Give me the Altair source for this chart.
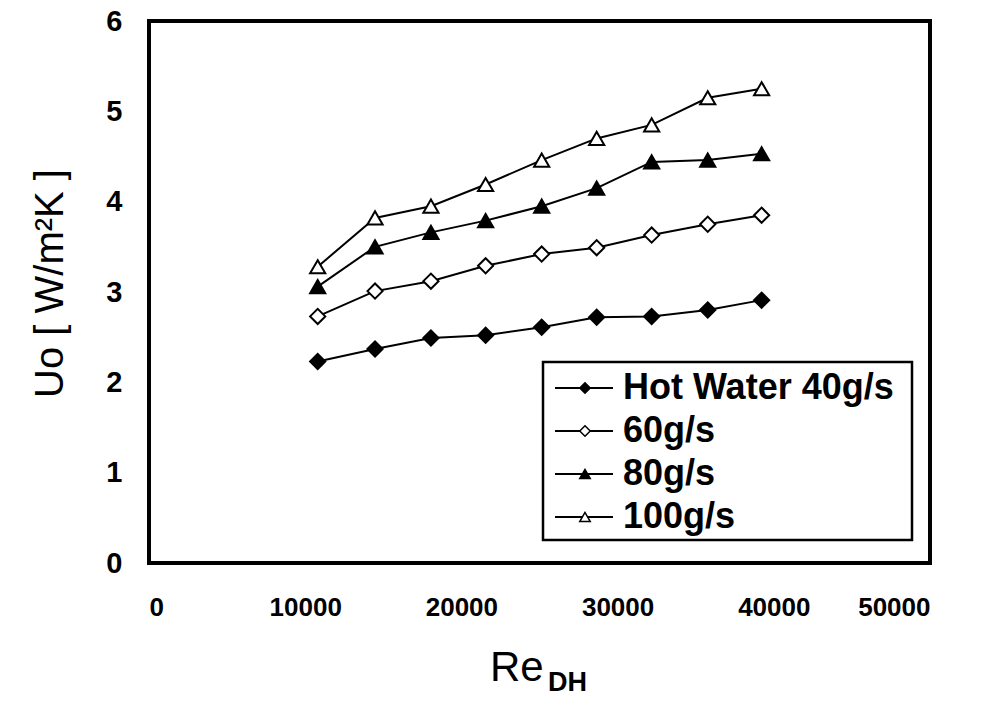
import altair as alt
import pandas as pd

# Reynolds number on the annulus hydraulic diameter
re_dh = [10800, 14470, 18050, 21550, 25140, 28660, 32180, 35770, 39220]

# Overall heat transfer coefficient Uo for each hot-water flow rate
uo_40 = [2.23, 2.37, 2.49, 2.52, 2.61, 2.72, 2.73, 2.80, 2.91]
uo_60 = [2.73, 3.01, 3.12, 3.29, 3.42, 3.49, 3.63, 3.75, 3.85]
uo_80 = [3.06, 3.50, 3.66, 3.79, 3.95, 4.15, 4.44, 4.46, 4.53]
uo_100 = [3.28, 3.82, 3.95, 4.19, 4.46, 4.70, 4.85, 5.15, 5.25]

series_names = ["40g/s", "60g/s", "80g/s", "100g/s"]
legend_labels = ["Hot Water 40g/s", "60g/s", "80g/s", "100g/s"]
marker_shapes = ["diamond", "diamond", "triangle-up", "triangle-up"]
marker_fills = ["black", "white", "black", "white"]

x_ticks = [0, 10000, 20000, 30000, 40000, 50000]
y_ticks = [0, 1, 2, 3, 4, 5, 6]

rows = []
for name, vals in zip(series_names, [uo_40, uo_60, uo_80, uo_100]):
    for r, u in zip(re_dh, vals):
        rows.append({"series": name, "Re": r, "Uo": u})
df = pd.DataFrame(rows)

legend_df = pd.DataFrame({"series": series_names, "label": legend_labels})
one_row = pd.DataFrame({"k": [0]})

shape_scale = alt.Scale(domain=series_names, range=marker_shapes)
fill_scale = alt.Scale(domain=series_names, range=marker_fills)

x_enc = alt.X(
    "Re:Q",
    scale=alt.Scale(domain=[0, 50000], nice=False),
    axis=alt.Axis(
        values=x_ticks,
        format="d",
        title=None,
        labelPadding=31,
        labelFontSize=26,
    ),
)
y_enc = alt.Y(
    "Uo:Q",
    scale=alt.Scale(domain=[0, 6], nice=False),
    axis=alt.Axis(
        values=y_ticks,
        labelPadding=27,
        labelFontSize=29,
        title="Uo [ W/m²K ]",
        titleFont="Liberation Sans",
        titleFontSize=40,
        titleFontWeight="normal",
        titleAngle=-90,
        titleX=-99,
        titleY=262,
        titleAlign="center",
        titleBaseline="middle",
    ),
)

lines = alt.Chart(df).mark_line(color="black", strokeWidth=2).encode(
    x=x_enc, y=y_enc, detail="series:N"
)
points = alt.Chart(df).mark_point(
    size=230, stroke="black", strokeWidth=2, opacity=1, filled=False
).encode(
    x=x_enc,
    y=y_enc,
    shape=alt.Shape("series:N", scale=shape_scale, legend=None),
    fill=alt.Fill("series:N", scale=fill_scale, legend=None),
)
main = alt.layer(lines, points)

# Legend box drawn as its own layer
legend_y = alt.Y(
    "series:N",
    scale=alt.Scale(type="point", domain=series_names, range=[367, 496], padding=0),
    axis=None,
)
legend_box = alt.Chart(one_row).mark_rect(
    fill="white", stroke="black", strokeWidth=2.5
).encode(
    x=alt.value(394), x2=alt.value(763), y=alt.value(341), y2=alt.value(519)
)
legend_lines = alt.Chart(legend_df).mark_rule(color="black", strokeWidth=2).encode(
    x=alt.value(406), x2=alt.value(464), y=legend_y
)
legend_marks = alt.Chart(legend_df).mark_point(
    size=110, stroke="black", strokeWidth=1.5, opacity=1, filled=False
).encode(
    x=alt.value(436),
    y=legend_y,
    shape=alt.Shape("series:N", scale=shape_scale, legend=None),
    fill=alt.Fill("series:N", scale=fill_scale, legend=None),
)
legend_text = alt.Chart(legend_df).mark_text(
    align="left",
    baseline="middle",
    font="Liberation Sans",
    fontSize=36,
    fontWeight="bold",
    color="black",
).encode(x=alt.value(474), y=legend_y, text="label:N")
legend = alt.layer(legend_box, legend_lines, legend_marks, legend_text)

# x-axis title: Re with subscript DH
title_re = alt.Chart(one_row).mark_text(
    text="Re", align="left", baseline="alphabetic",
    font="Liberation Sans", fontSize=42, color="black",
).encode(x=alt.value(341), y=alt.value(660))
title_dh = alt.Chart(one_row).mark_text(
    text="DH", align="left", baseline="alphabetic",
    font="Liberation Sans", fontSize=27, fontWeight="bold", color="black",
).encode(x=alt.value(399), y=alt.value(670))

chart = (
    alt.layer(main, legend, title_re, title_dh)
    .resolve_scale(y="independent")
    .properties(
        width=781,
        height=542,
        autosize=alt.AutoSizeParams(type="none"),
        padding={"left": 149, "top": 21, "right": 67, "bottom": 155},
        background="white",
    )
    .configure_view(stroke="black", strokeWidth=4)
    .configure_axis(
        domain=False,
        grid=False,
        ticks=False,
        labelFont="Liberation Sans",
        labelFontWeight="bold",
        labelColor="black",
    )
)

chart.save("out.html", embed_options={"renderer": "svg", "actions": False})
